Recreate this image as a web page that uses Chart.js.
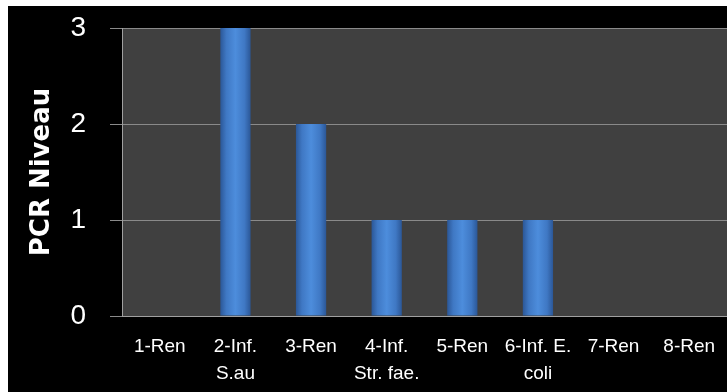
<!DOCTYPE html>
<html>
<head>
<meta charset="utf-8">
<script src="https://cdn.jsdelivr.net/npm/chart.js@4"></script>
<style>
    body { margin: 0; background: #ffffff; }
    #box { position: absolute; left: 8px; top: 6px; width: 719px; height: 386px; background: #000000; }
</style>
</head>
<body>
<div id="box"><canvas id="pcr"></canvas></div>
<script>
const categories = [['1-Ren'], ['2-Inf.', 'S.au'], ['3-Ren'], ['4-Inf.', 'Str. fae.'], ['5-Ren'], ['6-Inf. E.', 'coli'], ['7-Ren'], ['8-Ren']];
const pcr_niveau = [0, 3, 2, 1, 1, 1, 0, 0];
const y_ticks = [0, 1, 2, 3];

// fondo negro + zona del grafico gris
const fondo = {
    id: 'fondo',
    beforeDraw(chart) {
        const { ctx, chartArea } = chart;
        ctx.save();
        ctx.fillStyle = '#000000';
        ctx.fillRect(0, 0, chart.width, chart.height);
        ctx.fillStyle = '#404040';
        ctx.fillRect(chartArea.left, chartArea.top, chartArea.right - chartArea.left, chartArea.bottom - chartArea.top);
        ctx.restore();
    }
};

// degradado horizontal de cada barra
function colorBarra(context) {
    const chart = context.chart;
    const x = chart.scales.x;
    if (!x || !chart.chartArea) return '#4a86d4';
    const centro = x.getPixelForValue(context.dataIndex);
    const ancho = (x.width / categories.length) * 0.4;
    const g = chart.ctx.createLinearGradient(centro - ancho / 2, 0, centro + ancho / 2, 0);
    g.addColorStop(0, '#2b5797');
    g.addColorStop(0.2, '#3f78c4');
    g.addColorStop(0.5, '#4d8ddc');
    g.addColorStop(0.8, '#3f78c4');
    g.addColorStop(1, '#2b5797');
    return g;
}

const var_pcr = document.getElementById('pcr').getContext('2d');

new Chart(var_pcr, {
    type: 'bar',
    data: {
        labels: categories,
        datasets: [{
            data: pcr_niveau,
            backgroundColor: colorBarra,
            borderWidth: 0,
            barPercentage: 0.4,
            categoryPercentage: 1.0
        }]
    },
    plugins: [fondo],
    options: {
        responsive: true,
        maintainAspectRatio: false,
        animation: false,
        layout: {
            padding: { top: 22, right: 0, left: 0, bottom: 0 }
        },
        scales: {
            x: {
                grid: { display: false, drawTicks: false },
                border: { display: true, color: '#a0a0a0', width: 1 },
                ticks: {
                    color: '#ffffff',
                    maxRotation: 0,
                    autoSkip: false,
                    padding: 17,
                    font: { family: 'Liberation Sans', size: 19, lineHeight: 1.42 }
                },
                afterFit(scale) { scale.height = 76; scale.paddingLeft = 0; scale.paddingRight = 0; }
            },
            y: {
                min: 0,
                max: 3,
                afterBuildTicks(scale) { scale.ticks = y_ticks.map(v => ({ value: v })); },
                grid: { color: '#8a8a8a', lineWidth: 1, tickLength: 12 },
                border: { display: true, color: '#a0a0a0', width: 1 },
                ticks: {
                    color: '#ffffff',
                    padding: 24,
                    font: { family: 'Liberation Sans', size: 28 }
                },
                title: {
                    display: true,
                    text: 'PCR Niveau',
                    color: '#ffffff',
                    padding: { top: 19, bottom: 0 },
                    font: { family: 'DejaVu Sans', size: 26, weight: 'bold' }
                },
                afterFit(scale) { scale.width = 114; scale.paddingTop = 0; scale.paddingBottom = 0; }
            }
        },
        plugins: {
            legend: { display: false },
            tooltip: { enabled: false }
        }
    }
});
</script>
</body>
</html>
